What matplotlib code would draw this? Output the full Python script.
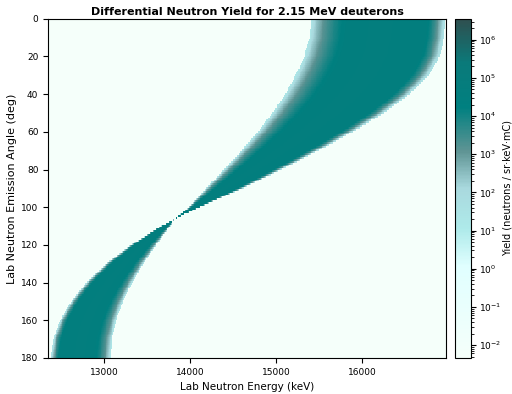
import numpy as np
import matplotlib
matplotlib.use("Agg")
import matplotlib.pyplot as plt
from matplotlib.colors import LogNorm, LinearSegmentedColormap

# band edges (keV) vs lab angle (deg)
angles = [0, 10, 20, 30, 40, 50, 60, 70, 80, 90, 100, 107, 110, 120, 130, 140, 150, 160, 170, 180]
e_low_ed = [15410, 15390, 15330, 15230, 15110, 14960, 14790, 14600, 14400, 14190, 13990, 13810,
            13770, 13610, 13460, 13330, 13220, 13140, 13090, 13070]   # low deuteron energy edge
e_high_ed = [16977, 16960, 16910, 16780, 16560, 16260, 15900, 15500, 15070, 14620, 14120, 13800,
             13670, 13320, 13030, 12800, 12620, 12490, 12410, 12380]  # high deuteron energy edge

# log10 yield across the band (0 = low-Ed edge, 1 = high-Ed edge)
prof_t = [0.0, 0.03, 0.10, 0.18, 0.27, 0.50, 0.86, 0.92, 0.97, 1.0]
prof_logy = [1.2, 2.2, 3.2, 3.9, 4.5, 4.6, 4.5, 3.6, 2.4, 1.4]

vmin, vmax = 10**-2.34, 10**6.55

cmap = LinearSegmentedColormap.from_list("yield", [
    (0.0, "#f5fffa"), (0.27, "#e0ffff"), (0.38, "#aeeaea"), (0.50, "#a9d9de"),
    (0.61, "#5f9494"), (0.74, "#008080"), (0.87, "#0a7a7a"), (1.0, "#2f4f4f")])

en = np.linspace(12349, 16977, 470)
th = np.arange(0, 181, 1)
lo = np.interp(th, angles, e_low_ed)
hi = np.interp(th, angles, e_high_ed)
width = hi - lo
width[np.abs(width) < 1] = 1
t = (en[None, :] - lo[:, None]) / width[:, None]
grid = np.full(t.shape, vmin * 0.5)
inside = (t >= 0) & (t <= 1)
grid[inside] = 10 ** np.interp(t[inside], prof_t, prof_logy)

fig = plt.figure(figsize=(5.12, 3.94), dpi=100)
ax = fig.add_axes([0.094, 0.0914, 0.777, 0.861])
cax = fig.add_axes([0.889, 0.0914, 0.031, 0.861])

im = ax.imshow(grid, aspect="auto", origin="upper", cmap=cmap,
               norm=LogNorm(vmin=vmin, vmax=vmax),
               extent=[en[0], en[-1], 180, 0], interpolation="nearest")
ax.set_xlim(en[0], en[-1])
ax.set_ylim(180, 0)
ax.set_yticks(np.arange(0, 181, 20))
ax.set_xticks([13000, 14000, 15000, 16000])
ax.tick_params(labelsize=6.5)
ax.set_xlabel("Lab Neutron Energy (keV)", fontsize=7.5)
ax.set_ylabel("Lab Neutron Emission Angle (deg)", fontsize=8, labelpad=3)
ax.set_title("Differential Neutron Yield for 2.15 MeV deuterons", fontsize=8, fontweight="bold", pad=3)

cb = fig.colorbar(im, cax=cax)
cb.ax.tick_params(labelsize=6.5, pad=2)
cb.set_label("Yield (neutrons / sr·keV·mC)", fontsize=7, labelpad=1)

fig.savefig("out.png", dpi=100)
